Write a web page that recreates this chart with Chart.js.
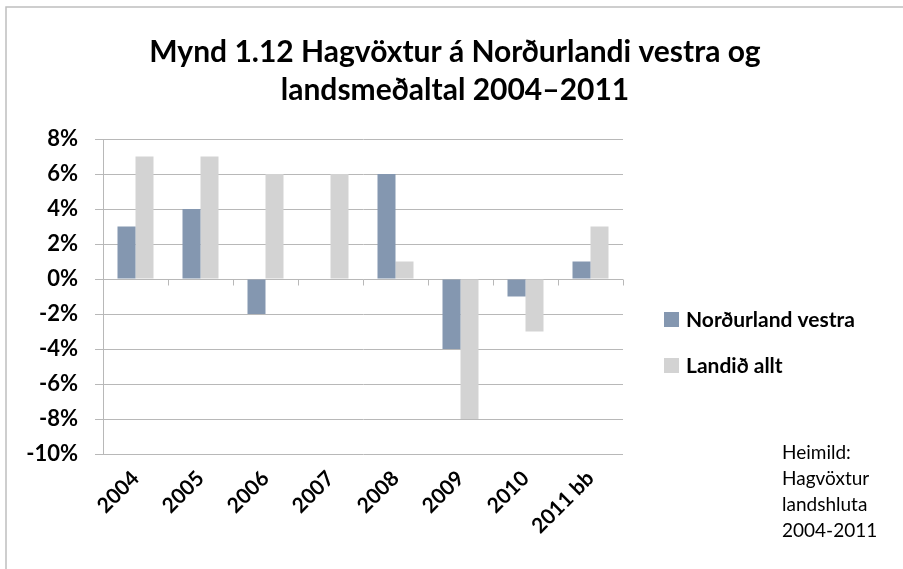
<!DOCTYPE html>
<html>
<head>
<meta charset="utf-8">
<script src="https://cdn.jsdelivr.net/npm/chart.js@4.4.0/dist/chart.umd.min.js"></script>
<style>
  body { margin: 0; background: #fff; }
  #wrap { width: 903px; height: 569px; position: relative; }
</style>
</head>
<body>
<div id="wrap"><canvas id="bar-chart"></canvas></div>
<script>
const years = ['2004', '2005', '2006', '2007', '2008', '2009', '2010', '2011 bb'];
const nordurlandVestra = [3, 4, -2, 0, 6, -4, -1, 1];
const landidAllt = [7, 7, 6, 6, 1, -8, -3, 3];
const titleLines = ['Mynd 1.12 Hagvöxtur á Norðurlandi vestra og', 'landsmeðaltal 2004–2011'];
const sourceLines = ['Heimild:', 'Hagvöxtur', 'landshluta', '2004-2011'];

const gridGray = '#b8b8b8';

// title, legend, source note, frame and the small ticks on the zero line
const extras = {
  id: 'extras',
  afterDraw(chart) {
    const ctx = chart.ctx;
    const y = chart.scales.y;
    const area = chart.chartArea;
    ctx.save();

    ctx.strokeStyle = gridGray;
    ctx.lineWidth = 1;
    const y0 = Math.round(y.getPixelForValue(0)) + 0.5;
    const step = (area.right - area.left) / years.length;
    for (let i = 1; i <= years.length; i++) {
      const px = Math.round(area.left + i * step) + 0.5;
      ctx.beginPath();
      ctx.moveTo(px, y0);
      ctx.lineTo(px, y0 + 6);
      ctx.stroke();
    }

    ctx.lineWidth = 1.5;
    ctx.strokeStyle = '#bfbfbf';
    ctx.beginPath();
    ctx.moveTo(6, 569);
    ctx.lineTo(6, 7);
    ctx.lineTo(903, 7);
    ctx.stroke();

    // title
    ctx.fillStyle = '#000';
    ctx.font = 'bold 30px Lato';
    ctx.textAlign = 'center';
    ctx.textBaseline = 'middle';
    titleLines.forEach((t, i) => ctx.fillText(t, 455, 52 + i * 38));

    // legend
    chart.data.datasets.forEach((ds, i) => {
      const cy = 320 + i * 46;
      ctx.fillStyle = ds.backgroundColor;
      ctx.fillRect(664, cy - 8, 15, 15);
      ctx.fillStyle = '#000';
      ctx.font = 'bold 21px Lato';
      ctx.textAlign = 'left';
      ctx.fillText(ds.label, 686, cy);
    });

    // source
    ctx.font = '19px Lato';
    sourceLines.forEach((t, i) => ctx.fillText(t, 782, 453 + i * 26));
    ctx.restore();
  }
};

new Chart(
  document.getElementById('bar-chart'),
  {
    type: 'bar',
    data: {
      labels: years,
      datasets: [
        {
          label: 'Norðurland vestra',
          data: nordurlandVestra,
          backgroundColor: '#8497b0',
          categoryPercentage: 0.554,
          barPercentage: 1
        },
        {
          label: 'Landið allt',
          data: landidAllt,
          backgroundColor: '#d3d3d3',
          categoryPercentage: 0.554,
          barPercentage: 1
        }
      ]
    },
    options: {
      responsive: true,
      maintainAspectRatio: false,
      animation: false,
      layout: { padding: { top: 139, right: 280, left: 0, bottom: 0 } },
      plugins: {
        legend: { display: false },
        tooltip: { enabled: false },
        title: { display: false }
      },
      scales: {
        x: {
          grid: { display: false },
          border: { display: false },
          ticks: {
            color: '#000',
            font: { family: 'Lato', size: 21, weight: 'bold' },
            minRotation: 45,
            maxRotation: 45,
            autoSkip: false,
            padding: 4
          },
          afterFit: s => { s.height = 115; }
        },
        y: {
          min: -10,
          max: 8,
          grid: { color: gridGray, tickLength: 8 },
          border: { color: gridGray },
          ticks: {
            stepSize: 2,
            color: '#000',
            padding: 17,
            font: { family: 'Lato', size: 22, weight: 'bold' },
            callback: v => v + '%'
          },
          afterFit: s => { s.width = 103; }
        }
      }
    },
    plugins: [extras]
  }
);
</script>
</body>
</html>
